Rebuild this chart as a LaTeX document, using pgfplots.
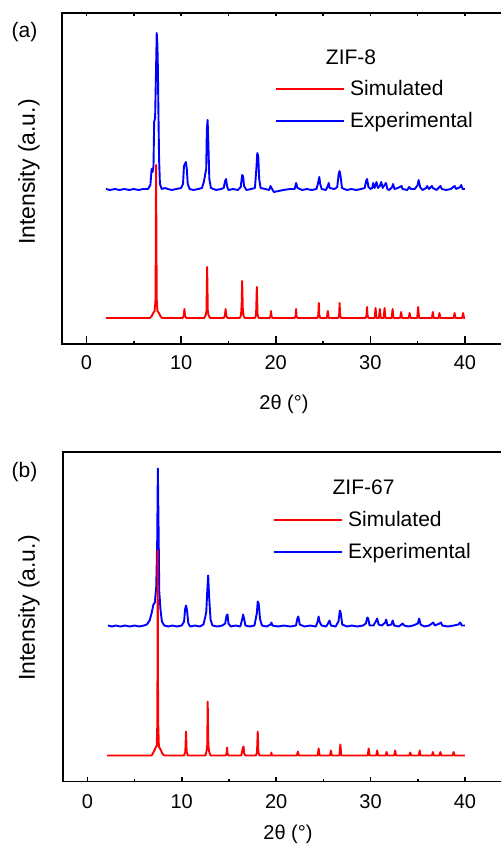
\documentclass[border=0pt]{standalone}
\usepackage{fontspec}
\setmainfont{Liberation Sans}
\usepackage{pgfplots}
\pgfplotsset{compat=1.18}

\newcommand{\lab}{\fontsize{20bp}{24bp}\selectfont}
\newcommand{\leg}{\fontsize{21bp}{25bp}\selectfont}
\newcommand{\ylab}{\fontsize{23bp}{27bp}\selectfont}

\pgfplotsset{
  xrd/.style={
    scale only axis, anchor=south west,
    axis line style={line width=1.8bp, black},
    tick style={line width=1.6bp, black},
    tick align=inside,
    xtick={0,10,...,40}, minor xtick={5,15,25,35},
    xtick pos=bottom,
    tick label style={font=\lab},
    /pgf/number format/assume math mode=true,
    clip=false,
    legend image code/.code={\draw[#1, line width=2bp] (0bp,0bp) -- (68bp,0bp);},
    legend style={draw=none, fill=none, font=\leg, anchor=north west,
      row sep=16bp, column sep=5bp, inner sep=0pt,
      nodes={inner sep=0pt, text height=14bp, text depth=2bp}},
    legend cell align=left,
  },
  sim/.style={red, line width=1.9bp, line join=round, forget plot},
  exp/.style={blue, line width=1.9bp, line join=round, forget plot},
}

\begin{document}
\begin{tikzpicture}[x=1bp,y=1bp]
\useasboundingbox (0,0) rectangle (501,-848);
\clip (0,0) rectangle (501,-848);

% ---------- (a) ZIF-8 ----------
\begin{axis}[xrd, at={(62bp,-344bp)},
  width=450bp, height=331bp,
  xmin=-2.59, xmax=44.97, ymin=0, ymax=331,
  major tick length=8bp, minor tick length=3.5bp,
  ytick=\empty, ytick pos=left,
  minor ytick={27,52.3,77.6,102.9,128.2,153.5,178.8,204.1,229.4,254.7,280,305.3},
  xticklabel shift=8bp,
  legend style={at={(axis cs:19.92,263)}}]
\addlegendimage{red}
\addlegendentry{Simulated}
\addlegendimage{blue}
\addlegendentry{Experimental}
\addplot[exp] coordinates {
(2.06,155) (2.5,154) (3.0,155) (3.5,154) (4.0,155) (4.5,154) (5.0,155) (5.5,154) (6.0,155)
(6.5,155) (6.75,159) (6.88,175) (6.98,172) (7.08,178) (7.15,222) (7.25,226) (7.35,275)
(7.42,311) (7.49,300) (7.54,278) (7.6,232) (7.67,185) (7.76,160) (7.95,155) (8.3,156)
(8.6,155) (9.0,154) (9.5,155)
(10.0,156) (10.2,160) (10.3,178) (10.4,180) (10.5,182) (10.6,175) (10.7,160) (10.9,155)
(11.3,154) (11.8,155) (12.2,156) (12.4,162) (12.55,170) (12.65,175) (12.72,215) (12.8,224)
(12.88,200) (12.98,165) (13.15,156) (13.7,154) (14.2,155) (14.5,156) (14.65,163) (14.75,165)
(14.85,158) (15.0,154) (15.5,155) (16.0,154) (16.3,157) (16.45,169) (16.55,168) (16.65,158)
(16.9,154) (17.4,155) (17.8,156) (17.95,175) (18.05,191) (18.15,188) (18.25,165) (18.4,156)
(18.9,155) (19.3,154) (19.45,158) (19.55,156) (19.8,152) (20.3,153) (20.8,154) (21.5,155)
(22.0,155) (22.15,161) (22.3,156) (22.8,154) (23.3,155) (23.8,154) (24.3,155) (24.45,160)
(24.6,167) (24.7,160) (24.85,155) (25.3,154) (25.5,158) (25.6,161) (25.7,156) (26.2,155)
(26.5,157) (26.65,170) (26.75,173) (26.85,168) (27.0,156) (27.5,154) (28.0,155) (28.5,154)
(29.0,155) (29.4,156) (29.55,163) (29.65,165) (29.8,157) (30.0,155) (30.2,156) (30.3,161)
(30.45,156) (30.65,162) (30.8,156) (31.0,158) (31.15,162) (31.3,156) (31.5,159) (31.65,161)
(31.8,155) (32.0,154) (32.3,157) (32.4,160) (32.55,155) (32.9,156) (33.3,158) (33.4,155)
(33.9,154) (34.1,157) (34.3,155) (34.7,155) (35.0,159) (35.1,164) (35.25,157) (35.5,154)
(35.9,156) (36.0,158) (36.2,155) (36.5,158) (36.6,156) (37.0,154) (37.4,158) (37.55,155)
(38.0,154) (38.5,155) (38.9,158) (39.05,155) (39.5,157) (39.6,159) (39.75,155) (40.0,155)
};
\addplot[sim] coordinates {
(2.06,26) (6.7,26) (6.9,28) (7.05,31) (7.2,33) (7.3,45) (7.35,179) (7.42,45) (7.5,33)
(7.65,31) (7.8,28) (8.0,26)
(10.15,26) (10.28,28) (10.35,35) (10.42,28) (10.55,26)
(12.45,26) (12.6,29) (12.68,33) (12.75,77) (12.82,33) (12.9,29) (13.05,26)
(14.5,26) (14.62,28) (14.7,35) (14.78,28) (14.9,26)
(16.2,26) (16.33,29) (16.4,40) (16.45,63) (16.52,35) (16.6,28) (16.75,26)
(17.8,26) (17.92,29) (18.0,57) (18.08,29) (18.2,26)
(19.35,26) (19.45,28) (19.5,33) (19.55,28) (19.65,26)
(22.0,26) (22.1,28) (22.15,35) (22.2,28) (22.3,26)
(24.4,26) (24.5,29) (24.55,41) (24.6,29) (24.7,26)
(25.4,26) (25.5,33) (25.6,26)
(26.6,26) (26.7,29) (26.75,41) (26.8,29) (26.9,26)
(29.5,26) (29.6,29) (29.65,37) (29.7,29) (29.8,26)
(30.45,26) (30.55,36) (30.65,26) (30.9,26) (31.0,35) (31.1,26)
(31.4,26) (31.5,36) (31.6,26) (32.25,26) (32.35,35) (32.45,26)
(33.15,26) (33.25,32) (33.35,26) (34.05,26) (34.15,31) (34.25,26)
(34.95,26) (35.05,37) (35.15,26) (36.5,26) (36.6,32) (36.7,26)
(37.2,26) (37.3,31) (37.4,26) (38.8,26) (38.9,31) (39.0,26)
(39.7,26) (39.8,31) (39.9,26) (40,26)
};
\node[font=\leg, inner sep=0pt] at (axis cs:27.96,287) {ZIF-8};
\end{axis}
% top ticks of (a)
\begin{axis}[scale only axis, anchor=south west, at={(62bp,-344bp)},
  width=450bp, height=331bp,
  xmin=-2.59, xmax=44.97, ymin=0, ymax=331,
  hide y axis, axis x line*=top, tick align=inside,
  axis line style={line width=1.8bp, black},
  tick style={line width=1.6bp, black},
  xtick={0,5,...,40}, xticklabels={}, major tick length=3.5bp]
\end{axis}

% ---------- (b) ZIF-67 ----------
\begin{axis}[xrd, at={(63.3bp,-781.5bp)},
  width=450bp, height=329.2bp,
  xmin=-2.545, xmax=45.12, ymin=0, ymax=329.2,
  major tick length=5bp, minor tick length=2.5bp,
  ytick=\empty,
  xticklabel shift=9bp,
  legend style={at={(axis cs:19.67,269.5)}}]
\addlegendimage{red}
\addlegendentry{Simulated}
\addlegendimage{blue}
\addlegendentry{Experimental}
\addplot[exp] coordinates {
(2.2,156) (2.6,155) (3.0,156) (3.5,155) (4.0,156) (4.5,155) (5.0,156) (5.5,155) (6.0,156)
(6.3,157) (6.6,161) (6.8,168) (7.0,177) (7.15,179) (7.3,195) (7.4,240) (7.47,313) (7.55,250)
(7.62,190) (7.75,172) (7.9,160) (8.15,156) (8.6,155) (9.0,156) (9.5,155) (10.0,156)
(10.25,160) (10.35,172) (10.45,176) (10.55,172) (10.7,158) (10.9,155) (11.4,156) (11.9,155)
(12.3,157) (12.5,165) (12.6,170) (12.7,190) (12.8,206) (12.9,185) (13.05,162) (13.25,156)
(13.8,155) (14.3,156) (14.6,158) (14.75,166) (14.85,167) (14.95,158) (15.2,155) (15.7,156)
(16.2,155) (16.4,162) (16.5,167) (16.6,163) (16.75,156) (17.2,155) (17.7,156) (17.95,168)
(18.05,180) (18.15,178) (18.3,162) (18.5,156) (19.0,155) (19.4,157) (19.5,159) (19.6,156)
(20.2,155) (20.8,156) (21.5,155) (22.1,156) (22.25,163) (22.35,165) (22.5,157) (23.0,155)
(23.6,156) (24.2,155) (24.4,160) (24.5,165) (24.6,160) (24.8,156) (25.3,155) (25.55,159)
(25.65,161) (25.8,156) (26.3,155) (26.6,160) (26.75,171) (26.85,168) (27.0,157) (27.5,155)
(28.0,156) (28.6,155) (29.2,156) (29.5,158) (29.65,164) (29.75,163) (29.9,156) (30.3,156)
(30.55,160) (30.7,163) (30.85,157) (31.2,156) (31.55,159) (31.65,162) (31.8,156) (32.2,157)
(32.35,161) (32.5,156) (33.0,155) (33.4,158) (33.55,156) (34.0,155) (34.5,156) (35.0,158)
(35.15,163) (35.3,157) (35.7,155) (36.2,156) (36.5,158) (36.65,159) (36.8,156) (37.3,158)
(37.45,159) (37.6,156) (38.2,155) (38.8,156) (39.3,157) (39.5,159) (39.65,156) (40.0,156)
};
\addplot[sim] coordinates {
(2.1,26) (6.8,26) (7.0,29) (7.2,33) (7.35,36) (7.42,60) (7.45,231) (7.5,60) (7.58,35)
(7.75,32) (7.95,28) (8.15,26)
(10.25,26) (10.38,30) (10.45,50) (10.52,30) (10.65,26)
(12.5,26) (12.62,30) (12.7,36) (12.75,80) (12.82,36) (12.9,30) (13.05,26)
(14.65,26) (14.75,28) (14.8,34) (14.85,28) (14.95,26)
(16.3,26) (16.4,30) (16.45,33) (16.55,35) (16.62,28) (16.75,26)
(17.85,26) (17.97,29) (18.05,50) (18.12,29) (18.25,26)
(19.45,26) (19.5,29) (19.55,26) (22.2,26) (22.3,30) (22.4,26)
(24.4,26) (24.5,33) (24.6,26) (25.7,26) (25.8,31) (25.9,26)
(26.7,26) (26.8,37) (26.9,26) (29.7,26) (29.8,33) (29.9,26)
(30.6,26) (30.7,31) (30.8,26) (31.6,26) (31.7,29.5) (31.8,26)
(32.5,26) (32.6,31) (32.7,26) (34.1,26) (34.2,29) (34.3,26)
(35.1,26) (35.2,31) (35.3,26) (36.5,26) (36.6,29.5) (36.7,26)
(37.3,26) (37.4,29.5) (37.5,26) (38.7,26) (38.8,29.5) (38.9,26) (40,26)
};
\node[font=\leg, inner sep=0pt] at (axis cs:29.26,294.5) {ZIF-67};
\end{axis}

% panel letters and axis titles
\node[font=\leg, inner sep=0pt] at (24.5,-32) {(a)};
\node[font=\leg, inner sep=0pt] at (24.5,-472) {(b)};
\node[font=\ylab, inner sep=0pt, rotate=90] at (29,-172) {Intensity (a.u.)};
\node[font=\ylab, inner sep=0pt, rotate=90] at (29,-608) {Intensity (a.u.)};
\node[font=\lab, inner sep=0pt] at (284,-404) {2θ (°)};
\node[font=\lab, inner sep=0pt] at (288,-834) {2θ (°)};
\end{tikzpicture}
\end{document}
